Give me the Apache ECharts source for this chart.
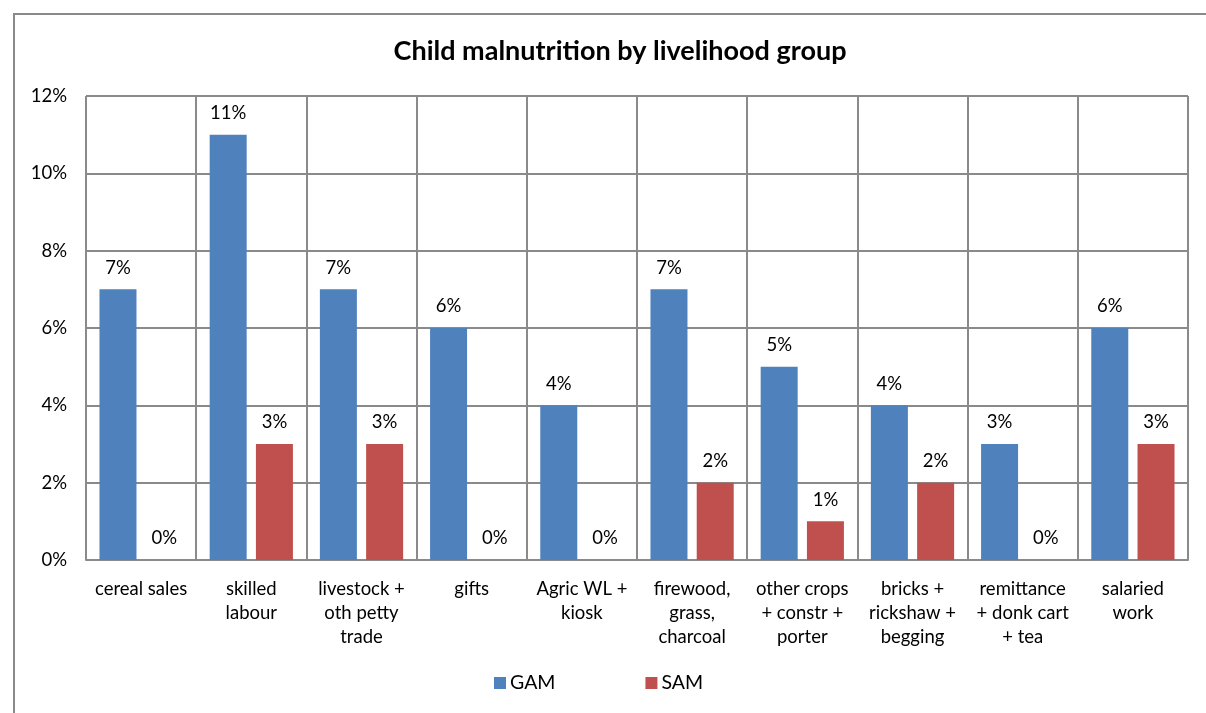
<!DOCTYPE html>
<html><head><meta charset="utf-8">
<script src="https://cdn.jsdelivr.net/npm/echarts@6/dist/echarts.min.js"></script>
<style>html,body{margin:0;padding:0;background:#fff}#c{width:1206px;height:713px}</style>
</head><body><div id="c"></div>
<script>
const categories = ['cereal sales','skilled\nlabour','livestock +\noth petty\ntrade','gifts','Agric WL +\nkiosk','firewood,\ngrass,\ncharcoal','other crops\n+ constr +\nporter','bricks +\nrickshaw +\nbegging','remittance\n+ donk cart\n+ tea','salaried\nwork'];
const gam = [7, 11, 7, 6, 4, 7, 5, 4, 3, 6];
const sam = [0, 3, 3, 0, 0, 2, 1, 2, 0, 3];
const yTicks = [0, 2, 4, 6, 8, 10, 12];
const FONT = 'Lato, "Open Sans", sans-serif';
const FS = 18.5;
const chart = echarts.init(document.getElementById('c'), null, {renderer: 'canvas'});
const lbl = {show: true, position: 'top', distance: 12, color: '#000', fontSize: FS, fontFamily: FONT, formatter: p => p.value + '%'};
chart.setOption({
  animation: false,
  backgroundColor: '#fff',
  graphic: [{type: 'rect', shape: {x: 14, y: 14, width: 1220, height: 720}, style: {fill: 'none', stroke: '#8a8a8a', lineWidth: 2}, silent: true, z: -1}],
  title: {text: 'Child malnutrition by livelihood group', left: 615, top: 33, textAlign: 'center',
    textStyle: {fontFamily: FONT, fontWeight: 'bold', fontSize: 27, color: '#000'}},
  legend: {bottom: 15, left: 489, itemWidth: 12, itemHeight: 12, itemGap: 90, icon: 'rect',
    textStyle: {fontFamily: FONT, fontSize: 19.5, color: '#000', padding: [0, 0, 0, -1]}, data: ['GAM', 'SAM']},
  grid: {left: 86, right: 18, top: 96, bottom: 153, containLabel: false},
  xAxis: {type: 'category', data: categories,
    axisLine: {lineStyle: {color: '#8a8a8a', width: 2}}, axisTick: {show: false},
    splitLine: {show: true, interval: 0, lineStyle: {color: '#8a8a8a', width: 2}},
    axisLabel: {interval: 0, margin: 17, color: '#000', fontSize: FS, lineHeight: 24, fontFamily: FONT, align: 'center'}},
  yAxis: {type: 'value', min: yTicks[0], max: yTicks[yTicks.length - 1], interval: 2,
    axisLine: {show: false}, axisTick: {show: false},
    splitLine: {lineStyle: {color: '#8a8a8a', width: 2}},
    axisLabel: {margin: 19, color: '#000', fontSize: FS, fontFamily: FONT, formatter: v => v + '%'}},
  series: [
    {name: 'GAM', type: 'bar', data: gam, barWidth: 37, barGap: '25%', itemStyle: {color: '#4f81bd'}, label: lbl},
    {name: 'SAM', type: 'bar', data: sam, barWidth: 37, itemStyle: {color: '#c0504d'}, label: lbl}
  ]
});
</script></body></html>
